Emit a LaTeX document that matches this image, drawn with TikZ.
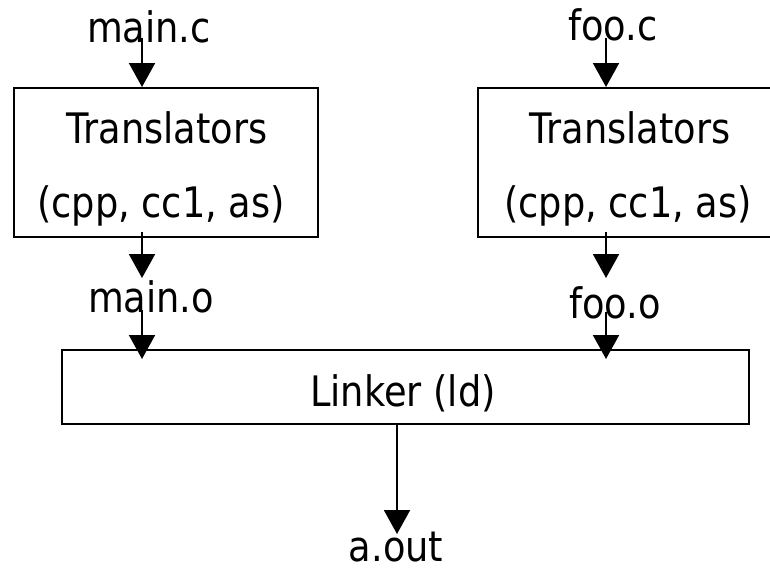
\documentclass[tikz,border=0pt]{standalone}
\usepackage{fontspec}
\setmainfont{DejaVu Sans}[FakeStretch=0.875]
\usetikzlibrary{arrows.meta}
\begin{document}
\begin{tikzpicture}[x=1pt,y=-1pt,
  box/.style={draw, line width=2pt, minimum width=#1, inner sep=0pt},
  lbl/.style={anchor=base, inner sep=0pt, font=\fontsize{42}{50}\selectfont},
  arr/.style={line width=2pt, -{Triangle[length=24pt,width=26pt]}}]
\clip (0,0) rectangle (770,570);
\fill[white] (0,0) rectangle (770,570);
% boxes
\node[box=304pt, minimum height=149pt] (t1) at (166,162.5) {};
\node[box=304pt, minimum height=149pt] (t2) at (630,162.5) {};
\node[box=687pt, minimum height=74pt] (ld) at (405.5,387) {};
% texts
\node[lbl] (mainc) at (149,42) {main.c};
\node[lbl] (fooc) at (613,40) {foo.c};
\node[lbl] (t1a) at (167,143) {Translators};
\node[lbl] (t1b) at (161,217) {(cpp, cc1, as)};
\node[lbl] (t2a) at (630,143) {Translators};
\node[lbl] (t2b) at (628,217) {(cpp, cc1, as)};
\node[lbl] (maino) at (151,312) {main.o};
\node[lbl] (fooo) at (615,318) {foo.o};
\node[lbl] (ldt) at (403,406) {Linker (ld)};
\node[lbl] (aout) at (396,561) {a.out};
% connector start points
\coordinate (s1) at (142,38);
\coordinate (s2) at (606,38);
\coordinate (s3) at (142,232);
\coordinate (s4) at (606,232);
\coordinate (e3) at (142,278);
\coordinate (e4) at (606,278);
\coordinate (s5) at (142,310);
\coordinate (s6) at (606,312);
\coordinate (e5) at (142,359);
\coordinate (e6) at (606,359);
\coordinate (s7) at (397,424);
\coordinate (e7) at (397,534);
% connectors
\draw[arr] (s1) -- (s1 |- t1.north);
\draw[arr] (s2) -- (s2 |- t2.north);
\draw[arr] (s3) -- (e3);
\draw[arr] (s4) -- (e4);
\draw[arr] (s5) -- (e5);
\draw[arr] (s6) -- (e6);
\draw[arr] (s7) -- (e7);
\end{tikzpicture}
\end{document}
